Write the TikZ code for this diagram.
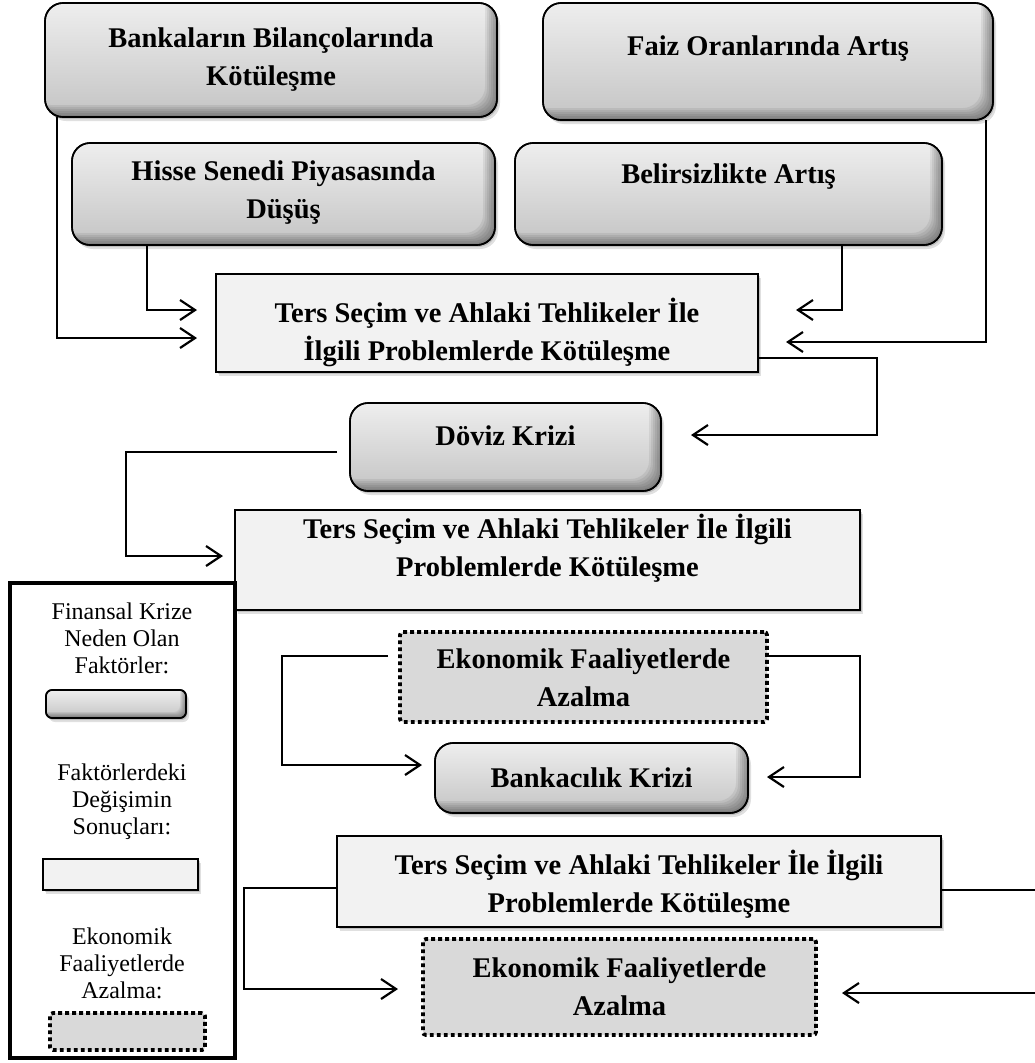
\documentclass[tikz,border=0pt]{standalone}
\usepackage{fontspec}
\setmainfont{Liberation Serif}
\usetikzlibrary{arrows.meta,shadows}

\definecolor{gtop}{HTML}{EEEEEE}
\definecolor{gbot}{HTML}{C4C4C4}
\definecolor{resfill}{HTML}{F2F2F2}
\definecolor{ecofill}{HTML}{D9D9D9}

\tikzset{
  factor/.style={draw=black, line width=1.6pt, rounded corners=18pt,
    top color=gtop, bottom color=gbot, inner sep=0pt, outer sep=0pt,
    drop shadow={shadow xshift=3pt, shadow yshift=-4pt, opacity=0.12, fill=black},
    drop shadow={shadow xshift=1.5pt, shadow yshift=-2pt, opacity=0.15, fill=black}},
  result/.style={draw=black, line width=1.6pt, fill=resfill, inner sep=0pt, outer sep=0pt,
    drop shadow={shadow xshift=3pt, shadow yshift=-4pt, opacity=0.12, fill=black},
    drop shadow={shadow xshift=1.5pt, shadow yshift=-2pt, opacity=0.15, fill=black}},
  decline/.style={draw=black, fill=ecofill, line width=3.8pt,
    dash pattern=on 3.8pt off 3.2pt, rounded corners=3pt, inner sep=0pt, outer sep=0pt},
  legendframe/.style={draw=black, line width=4pt, inner sep=0pt, outer sep=0pt},
  boxtext/.style={inner sep=0pt, anchor=base, font=\fontsize{28.5}{38}\selectfont\bfseries},
  legtext/.style={inner sep=0pt, anchor=base, font=\fontsize{24}{27}\selectfont},
  conn/.style={line width=1.8pt, -{Straight Barb[length=15pt,width=20pt,line width=2.2pt]}},
}

% box node from its left/top and right/bottom edges
\newcommand\placebox[6]{%
  \node[#2, minimum width={(#5)-(#3)}, minimum height={(#6)-(#4)}]
    (#1) at ({((#3)+(#5))/2},{((#4)+(#6))/2}) {};}

% darker inner band along the right and bottom edges of a factor box
\newcommand\bevel[3]{%
  \begin{scope}
    \clip[rounded corners=#2] (#1.south west) rectangle (#1.north east);
    \foreach \i in {1,...,6}{
      \pgfmathsetmacro\k{\i*#3}
      \fill[black, opacity=0.065, even odd rule, rounded corners=#2]
        (#1.south west) rectangle (#1.north east)
        ([shift={(-\k pt,\k pt)}]#1.south west) rectangle ([shift={(-\k pt,\k pt)}]#1.north east);
    }
  \end{scope}
  \draw[line width=1.6pt, rounded corners=#2] (#1.south west) rectangle (#1.north east);}

\begin{document}
\begin{tikzpicture}[x=1pt,y=-1pt]
\useasboundingbox (0,0) rectangle (1035,1063);

% ---- factor boxes ----
\placebox{b1}{factor}{45}{3}{497}{117}
\placebox{b2}{factor}{543}{3}{993}{120}
\placebox{b3}{factor}{72}{143}{495}{245}
\placebox{b4}{factor}{515}{143}{942}{245}
\placebox{dv}{factor}{350}{403}{661}{491}
\placebox{bk}{factor}{435}{743}{748}{813}
\bevel{b1}{18pt}{2}
\bevel{b2}{18pt}{2}
\bevel{b3}{18pt}{2}
\bevel{b4}{18pt}{2}
\bevel{dv}{18pt}{2}
\bevel{bk}{18pt}{2}

% ---- result boxes ----
\placebox{t1}{result}{216}{274}{758}{372}
\placebox{t2}{result}{235}{510}{860}{610}
\placebox{t3}{result}{337}{836}{941}{927}

% ---- decline boxes ----
\placebox{e1}{decline}{400}{632}{767}{722}
\placebox{e2}{decline}{423}{939}{816}{1035}

% ---- box texts ----
\node[boxtext] (b1t) at (b1.center |- 0,47) {\begin{tabular}[t]{@{}c@{}}Bankaların Bilançolarında\\Kötüleşme\end{tabular}};
\node[boxtext] (b2t) at (b2.center |- 0,55) {Faiz Oranlarında Artış};
\node[boxtext] (b3t) at (b3.center |- 0,180) {\begin{tabular}[t]{@{}c@{}}Hisse Senedi Piyasasında\\Düşüş\end{tabular}};
\node[boxtext] (b4t) at (b4.center |- 0,183) {Belirsizlikte Artış};
\node[boxtext] (t1t) at (t1.center |- 0,322) {\begin{tabular}[t]{@{}c@{}}Ters Seçim ve Ahlaki Tehlikeler İle\\İlgili Problemlerde Kötüleşme\end{tabular}};
\node[boxtext] (dvt) at (dv.center |- 0,445) {Döviz Krizi};
\node[boxtext] (t2t) at (t2.center |- 0,538) {\begin{tabular}[t]{@{}c@{}}Ters Seçim ve Ahlaki Tehlikeler İle İlgili\\Problemlerde Kötüleşme\end{tabular}};
\node[boxtext] (e1t) at (e1.center |- 0,668) {\begin{tabular}[t]{@{}c@{}}Ekonomik Faaliyetlerde\\Azalma\end{tabular}};
\node[boxtext] (bkt) at (bk.center |- 0,787) {Bankacılık Krizi};
\node[boxtext] (t3t) at (t3.center |- 0,874) {\begin{tabular}[t]{@{}c@{}}Ters Seçim ve Ahlaki Tehlikeler İle İlgili\\Problemlerde Kötüleşme\end{tabular}};
\node[boxtext] (e2t) at (e2.center |- 0,977) {\begin{tabular}[t]{@{}c@{}}Ekonomik Faaliyetlerde\\Azalma\end{tabular}};

% ---- connectors ----
\draw[conn, shorten >=19pt] (57,0 |- b1.south) -- (57,338) -- (t1.west |- 0,338);
\draw[conn, shorten >=19pt] (147,0 |- b3.south) -- (147,310) -- (t1.west |- 0,310);
\draw[conn, shorten >=38pt] (842,0 |- b4.south) -- (842,310) -- (t1.east |- 0,310);
\draw[conn, shorten >=28pt] (986,0 |- b2.south) -- (986,342) -- (t1.east |- 0,342);
\draw[conn, shorten >=30pt] (t1.east |- 0,358) -- (877,358) -- (877,435) -- (dv.east |- 0,435);
\draw[conn, shorten <=13pt, shorten >=12pt] (dv.west |- 0,452) -- (126,452) -- (126,556) -- (t2.west |- 0,556);
\draw[conn, shorten <=12pt, shorten >=13pt] (e1.west |- 0,656) -- (282,656) -- (282,765) -- (bk.west |- 0,765);
\draw[conn, shorten >=19pt] (e1.east |- 0,656) -- (860,656) -- (860,777) -- (bk.east |- 0,777);
\draw[conn, shorten >=25pt] (t3.west |- 0,888) -- (244,888) -- (244,989) -- (e2.west |- 0,989);
% this loop runs on past the right margin
\draw[conn, shorten >=26pt] (t3.east |- 0,890) -- (1038,890) -- (1038,993) -- (e2.east |- 0,993);

% ---- legend ----
\placebox{legend}{legendframe}{10}{583}{235}{1058}
\node[legtext] (lg1) at (122,619) {\begin{tabular}[t]{@{}c@{}}Finansal Krize\\Neden Olan\\Faktörler:\end{tabular}};
\placebox{lgf}{factor, rounded corners=6pt}{46}{690}{186}{718}
\bevel{lgf}{6pt}{1}
\node[legtext] (lg2) at (122,780) {\begin{tabular}[t]{@{}c@{}}Faktörlerdeki\\Değişimin\\Sonuçları:\end{tabular}};
\placebox{lgr}{result}{43}{859}{198}{890}
\node[legtext] (lg3) at (122,944) {\begin{tabular}[t]{@{}c@{}}Ekonomik\\Faaliyetlerde\\Azalma:\end{tabular}};
\placebox{lge}{decline}{50}{1013}{205}{1050}
\end{tikzpicture}
\end{document}
